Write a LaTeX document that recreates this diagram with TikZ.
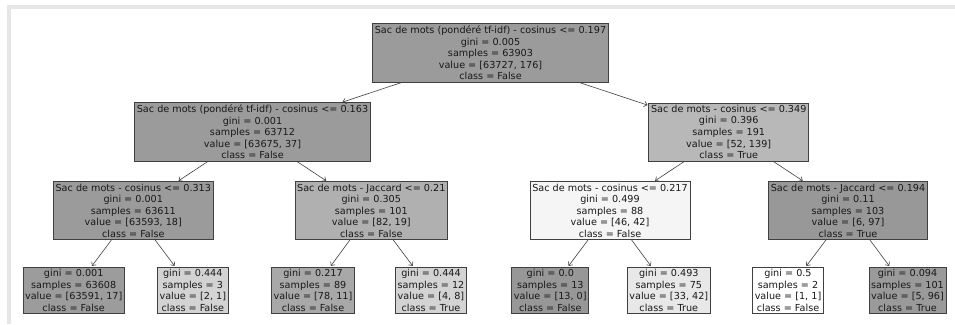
\documentclass[tikz,border=0pt]{standalone}
\usepackage{fontspec}
\setmainfont{DejaVu Sans}
\usetikzlibrary{arrows.meta}
\definecolor{framegray}{HTML}{E6E6E6}
\definecolor{edgegray}{HTML}{404040}
\tikzset{
  treebox/.style={draw=edgegray, line width=0.7pt, rectangle, align=center,
    inner xsep=2.2pt, inner ysep=2.1pt, text=black!90,
    font=\fontsize{9.65}{11.6}\selectfont},
  treeedge/.style={draw=edgegray, line width=0.6pt,
    -{Straight Barb[length=3pt,width=5.5pt]}, shorten >=1pt}
}
\begin{document}
\begin{tikzpicture}[x=1pt,y=-1pt]
\useasboundingbox (0,0) rectangle (955,324);
\fill[white] (0,0) rectangle (955,324);
\fill[framegray] (7,5) rectangle (955,9);
\fill[framegray] (7,5) rectangle (11,324);

\node[treebox, fill={rgb,255:red,155;green,155;blue,155}] (root) at (490.5,53)
  {Sac de mots (pondéré tf-idf) - cosinus <= 0.197\\gini = 0.005\\samples = 63903\\value = [63727, 176]\\class = False};

\node[treebox, fill={rgb,255:red,155;green,155;blue,155}] (a) at (252.5,132)
  {Sac de mots (pondéré tf-idf) - cosinus <= 0.163\\gini = 0.001\\samples = 63712\\value = [63675, 37]\\class = False};
\node[treebox, fill={rgb,255:red,184;green,184;blue,184}] (b) at (728.7,132)
  {Sac de mots - cosinus <= 0.349\\gini = 0.396\\samples = 191\\value = [52, 139]\\class = True};

\node[treebox, fill={rgb,255:red,155;green,155;blue,155}] (aa) at (133.3,210.7)
  {Sac de mots - cosinus <= 0.313\\gini = 0.001\\samples = 63611\\value = [63593, 18]\\class = False};
\node[treebox, fill={rgb,255:red,176;green,176;blue,176}] (ab) at (371.3,210.7)
  {Sac de mots - Jaccard <= 0.21\\gini = 0.305\\samples = 101\\value = [82, 19]\\class = False};
\node[treebox, fill={rgb,255:red,245;green,245;blue,245}] (ba) at (610,210.7)
  {Sac de mots - cosinus <= 0.217\\gini = 0.499\\samples = 88\\value = [46, 42]\\class = False};
\node[treebox, fill={rgb,255:red,152;green,152;blue,152}] (bb) at (848,210.7)
  {Sac de mots - Jaccard <= 0.194\\gini = 0.11\\samples = 103\\value = [6, 97]\\class = True};

\node[treebox, fill={rgb,255:red,156;green,156;blue,156}] (aaa) at (73.7,290.3)
  {gini = 0.001\\samples = 63608\\value = [63591, 17]\\class = False};
\node[treebox, fill={rgb,255:red,211;green,211;blue,211}] (aab) at (192.8,290.3)
  {gini = 0.444\\samples = 3\\value = [2, 1]\\class = False};
\node[treebox, fill={rgb,255:red,168;green,168;blue,168}] (aba) at (313,290.3)
  {gini = 0.217\\samples = 89\\value = [78, 11]\\class = False};
\node[treebox, fill={rgb,255:red,211;green,211;blue,211}] (abb) at (431,290.3)
  {gini = 0.444\\samples = 12\\value = [4, 8]\\class = True};
\node[treebox, fill={rgb,255:red,151;green,151;blue,151}] (baa) at (550.3,290.3)
  {gini = 0.0\\samples = 13\\value = [13, 0]\\class = False};
\node[treebox, fill={rgb,255:red,232;green,232;blue,232}] (bab) at (668.8,290.3)
  {gini = 0.493\\samples = 75\\value = [33, 42]\\class = True};
\node[treebox, fill=white] (bba) at (788,290.3)
  {gini = 0.5\\samples = 2\\value = [1, 1]\\class = False};
\node[treebox, fill={rgb,255:red,154;green,154;blue,154}] (bbb) at (907.5,290.3)
  {gini = 0.094\\samples = 101\\value = [5, 96]\\class = True};

\draw[treeedge] (root) -- (a);
\draw[treeedge] (root) -- (b);
\draw[treeedge] (a) -- (aa);
\draw[treeedge] (a) -- (ab);
\draw[treeedge] (b) -- (ba);
\draw[treeedge] (b) -- (bb);
\draw[treeedge] (aa) -- (aaa);
\draw[treeedge] (aa) -- (aab);
\draw[treeedge] (ab) -- (aba);
\draw[treeedge] (ab) -- (abb);
\draw[treeedge] (ba) -- (baa);
\draw[treeedge] (ba) -- (bab);
\draw[treeedge] (bb) -- (bba);
\draw[treeedge] (bb) -- (bbb);
\end{tikzpicture}
\end{document}
